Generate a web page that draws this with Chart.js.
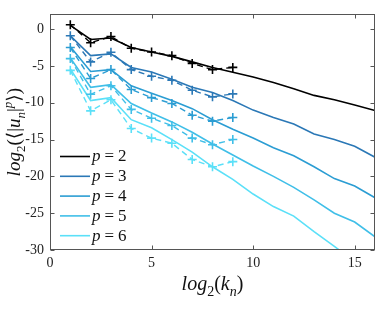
<!DOCTYPE html>
<html>
<head>
<meta charset="utf-8">
<script src="https://cdn.jsdelivr.net/npm/chart.js@4.4.1/dist/chart.umd.min.js"></script>
<style>
    html, body { margin: 0; padding: 0; background: #fff; }
    #wrap { width: 385px; height: 316px; }
</style>
</head>
<body>
<div id="wrap"><canvas id="chart" width="385" height="316"></canvas></div>
<script>
// shell index n (log2 k_n)
const kModel = [1, 2, 3, 4, 5, 6, 7, 8, 9, 10, 11, 12, 13, 14, 15, 16];
const kMeasured = [1, 2, 3, 4, 5, 6, 7, 8, 9];
const orders = [2, 3, 4, 5, 6];

// solid lines: log2 <|u_n|^p>
const modelP2 = [0.5, -1.4, -1.2, -2.5, -3.1, -3.7, -4.45, -5.2, -5.85, -6.5, -7.25, -8.1, -9.0, -9.6, -10.3, -11.05];
const modelP3 = [-0.9, -3.6, -3.37, -5.2, -5.83, -6.8, -7.9, -8.6, -9.7, -11.0, -12.0, -12.9, -14.25, -15.0, -15.9, -17.4];
const modelP4 = [-2.4, -5.75, -5.5, -7.7, -8.7, -9.7, -10.8, -12.3, -13.6, -14.8, -16.1, -17.2, -18.7, -20.3, -21.3, -22.9];
const modelP5 = [-3.9, -7.9, -7.55, -10.1, -11.4, -12.6, -14.0, -15.6, -17.1, -18.6, -20.0, -21.5, -23.2, -25.0, -26.2, -28.2];
const modelP6 = [-5.4, -9.7, -9.3, -12.3, -13.4, -15.0, -16.7, -18.7, -20.4, -22.4, -24.1, -25.4, -27.5, -29.5, -31.6, -33.5];

// dashed lines with + markers
const measP2 = [0.6, -1.85, -1.0, -2.6, -3.1, -3.6, -4.66, -5.5, -5.2];
const measP3 = [-0.9, -4.45, -3.15, -5.5, -6.4, -6.95, -8.3, -9.2, -8.8];
const measP4 = [-2.5, -6.7, -5.5, -8.2, -9.3, -10.1, -11.7, -12.5, -12.0];
const measP5 = [-4.0, -8.85, -7.7, -10.9, -12.1, -13.1, -14.8, -15.7, -15.0];
const measP6 = [-5.6, -11.1, -9.6, -13.5, -14.8, -15.5, -17.7, -18.7, -18.0];

const xTicks = [0, 5, 10, 15];
const yTicks = [0, -5, -10, -15, -20, -25, -30];

const modelSeries = [modelP2, modelP3, modelP4, modelP5, modelP6];
const measSeries = [measP2, measP3, measP4, measP5, measP6];
const colors = ['#000000', '#2b78b6', '#2b9dd3', '#40bfe8', '#5be0f8'];

const SERIF = '"Liberation Serif", "DejaVu Serif", serif';
const AXIS = '#555555';

function toPoints(xs, ys) {
    return xs.map((x, i) => ({ x: x, y: ys[i] }));
}

const datasets = [];
orders.forEach((p, i) => {
    datasets.push({
        label: 'p = ' + p,
        data: toPoints(kModel, modelSeries[i]),
        borderColor: colors[i],
        backgroundColor: colors[i],
        borderWidth: 1.6,
        pointRadius: 0,
        legendEntry: true
    });
    datasets.push({
        label: 'p = ' + p + ' (dashed)',
        data: toPoints(kMeasured, measSeries[i]),
        borderColor: colors[i],
        backgroundColor: colors[i],
        borderWidth: 1.4,
        borderDash: [6, 4],
        pointStyle: 'cross',
        pointRadius: 4.5,
        pointBorderWidth: 1.6,
        legendEntry: false
    });
});

// box with inward ticks on all four sides (MATLAB style)
const boxPlugin = {
    id: 'box',
    afterDraw(chart) {
        const ctx = chart.ctx;
        const a = chart.chartArea;
        const xs = chart.scales.x, ys = chart.scales.y;
        const L = Math.round(a.left) + 0.5, R = Math.round(a.right) - 0.5;
        const T = Math.round(a.top) + 0.5, B = Math.round(a.bottom) - 0.5;
        ctx.save();
        ctx.strokeStyle = AXIS;
        ctx.lineWidth = 1;
        ctx.strokeRect(L, T, R - L, B - T);
        ctx.beginPath();
        xTicks.forEach(v => {
            const px = Math.round(xs.getPixelForValue(v)) + 0.5;
            ctx.moveTo(px, B); ctx.lineTo(px, B - 4);
            ctx.moveTo(px, T); ctx.lineTo(px, T + 4);
        });
        yTicks.forEach(v => {
            const py = Math.round(ys.getPixelForValue(v)) + 0.5;
            ctx.moveTo(L, py); ctx.lineTo(L + 4, py);
            ctx.moveTo(R, py); ctx.lineTo(R - 4, py);
        });
        ctx.stroke();
        ctx.restore();
    }
};

// draw a run of [text, style] pieces; style: n normal, i italic, sb sub, sbi sub italic, spi sup italic
function drawRich(ctx, parts, x, y, size) {
    const small = Math.round(size * 0.7);
    const fontFor = s => {
        const it = s.indexOf('i') >= 0 ? 'italic ' : '';
        const sz = (s === 'n' || s === 'i') ? size : small;
        return it + sz + 'px ' + SERIF;
    };
    const offFor = s => s.startsWith('sb') ? size * 0.28 : (s.startsWith('sp') ? -size * 0.4 : 0);
    let total = 0;
    parts.forEach(([t, s]) => { ctx.font = fontFor(s); total += ctx.measureText(t).width; });
    let cx = x - total / 2;
    parts.forEach(([t, s]) => {
        ctx.font = fontFor(s);
        ctx.fillText(t, cx, y + offFor(s));
        cx += ctx.measureText(t).width;
    });
}

const titlesPlugin = {
    id: 'titles',
    afterDraw(chart) {
        const ctx = chart.ctx;
        const a = chart.chartArea;
        ctx.save();
        ctx.fillStyle = '#111';
        ctx.textBaseline = 'alphabetic';
        ctx.textAlign = 'left';
        drawRich(ctx, [['log', 'i'], ['2', 'sb'], ['(', 'n'], ['k', 'i'], ['n', 'sbi'], [')', 'n']],
            (a.left + a.right) / 2, 290, 20);
        ctx.translate(20, (a.top + a.bottom) / 2);
        ctx.rotate(-Math.PI / 2);
        drawRich(ctx, [['log', 'i'], ['2', 'sb'], ['(\u27E8|', 'n'], ['u', 'i'], ['n', 'sbi'], ['|', 'n'], ['p', 'spi'], ['\u27E9)', 'n']],
            0, 0, 19);
        ctx.restore();
    }
};

const legendPlugin = {
    id: 'innerLegend',
    afterDraw(chart) {
        const ctx = chart.ctx;
        const a = chart.chartArea;
        const items = chart.data.datasets.filter(d => d.legendEntry);
        ctx.save();
        ctx.textBaseline = 'middle';
        items.forEach((d, i) => {
            const y = 156 + i * 19.8;
            const x0 = a.left + 10;
            ctx.strokeStyle = d.borderColor;
            ctx.lineWidth = 1.6;
            ctx.beginPath();
            ctx.moveTo(x0, y + 0.5);
            ctx.lineTo(x0 + 30, y + 0.5);
            ctx.stroke();
            ctx.fillStyle = '#111';
            const [lhs, rhs] = d.label.split(' = ');
            let tx = x0 + 32;
            ctx.font = 'italic 17px ' + SERIF;
            ctx.fillText(lhs, tx, y + 1);
            tx += ctx.measureText(lhs).width + 4;
            ctx.font = '17px ' + SERIF;
            ctx.fillText('=', tx, y + 1);
            tx += ctx.measureText('=').width + 4;
            ctx.fillText(rhs, tx, y + 1);
        });
        ctx.restore();
    }
};

new Chart(document.getElementById('chart'), {
    type: 'line',
    data: { datasets: datasets },
    options: {
        responsive: false,
        animation: false,
        devicePixelRatio: 1,
        layout: { padding: { left: 0, top: 5, right: 10, bottom: 0 } },
        plugins: {
            legend: { display: false },
            tooltip: { enabled: false }
        },
        scales: {
            x: {
                type: 'linear',
                min: 0,
                max: 16,
                grid: { display: false, drawTicks: false },
                border: { display: false },
                afterBuildTicks: s => { s.ticks = xTicks.map(v => ({ value: v })); },
                afterFit: s => { s.height = 66; },
                ticks: {
                    padding: 5,
                    color: '#222',
                    font: { family: SERIF, size: 14 },
                    maxRotation: 0
                }
            },
            y: {
                type: 'linear',
                min: -30,
                max: 2,
                grid: { display: false, drawTicks: false },
                border: { display: false },
                afterBuildTicks: s => { s.ticks = yTicks.map(v => ({ value: v })); },
                afterFit: s => { s.width = 50; },
                ticks: {
                    padding: 6,
                    color: '#222',
                    font: { family: SERIF, size: 14 }
                }
            }
        }
    },
    plugins: [boxPlugin, titlesPlugin, legendPlugin]
});
</script>
</body>
</html>
